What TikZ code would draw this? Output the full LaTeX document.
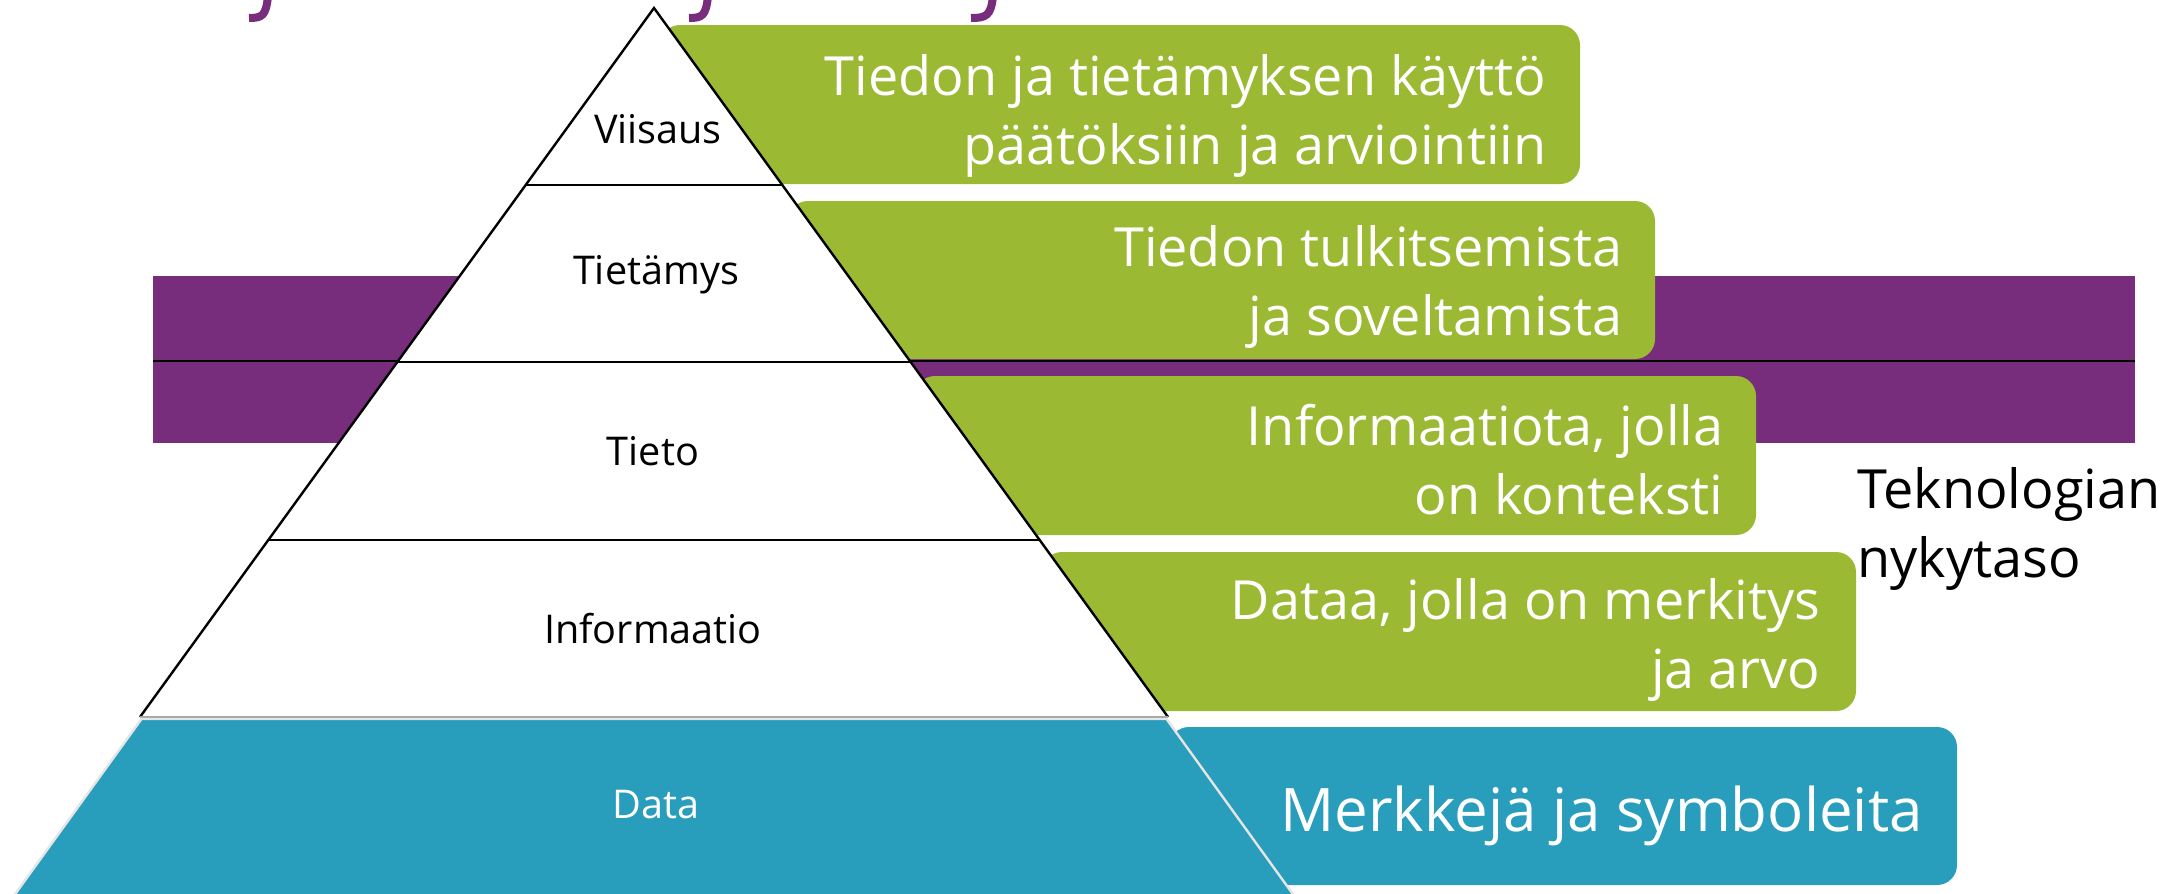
\documentclass[tikz,border=0pt]{standalone}
\usepackage{fontspec}
\setmainfont{Open Sans}

\definecolor{vihrea}{RGB}{155,185,50}
\definecolor{violetti}{RGB}{120,44,124}
\definecolor{turkoosi}{RGB}{40,157,188}

\tikzset{
  laatikko/.style={fill=vihrea, rounded corners=10pt},
  laatikkoteksti/.style={text=white, align=right, anchor=east, inner sep=0pt, font=\fontsize{27}{34.5}\selectfont},
  taso/.style={inner sep=0pt, font=\fontsize{19.8}{23}\selectfont},
}

\begin{document}
\begin{tikzpicture}[x=0.5pt, y=-0.5pt]
    \useasboundingbox (0,0) rectangle (2169,894);

    % Otsikon alaosat
    \draw[violetti, line width=4pt] (268,-4) .. controls (266,16) and (262,18) .. (249,18);
    \draw[violetti, line width=4pt] (708,-4) .. controls (706,16) and (702,18) .. (689,18);
    \draw[violetti, line width=4pt] (993,-4) .. controls (991,16) and (986,18) .. (971,18);

    % Teknologian nykytaso
    \fill[violetti] (153,276) rectangle (2135,443);
    \draw[black, line width=0.8pt] (153,361) -- (2135,361);

    % Laatikot
    \fill[laatikko] (660,25) rectangle (1580,184);
    \fill[laatikko] (788,201) rectangle (1655,359);
    \fill[laatikko] (915,376) rectangle (1756,535);
    \fill[laatikko] (1042,552) rectangle (1856,711);
    \fill[laatikko, fill=turkoosi] (1169,727) rectangle (1957,885);

    % Pyramidi
    \filldraw[fill=white, draw=black, line width=1.2pt] (140,717) -- (654,8) -- (1168,717);
    \draw[black, line width=1.2pt] (525.7,185) -- (782.3,185);
    \draw[black, line width=1.2pt] (397.3,362) -- (910.7,362);
    \draw[black, line width=1.2pt] (268.3,540) -- (1039.7,540);
    \draw[gray!70, line width=1pt] (140,717) -- (1168,717);
    \filldraw[fill=turkoosi, draw=gray!20, line width=1.2pt] (141.5,719) -- (1166.5,719) -- (1300,904) -- (8,904) -- cycle;

    % Tasot
    \node[taso] (viisaus) at (658,129) {Viisaus};
    \node[taso] (tietamys) at (656,275) {Tietämys};
    \node[taso] (tieto) at (653,451) {Tieto};
    \node[taso] (informaatio) at (653,629) {Informaatio};
    \node[taso, text=white] (data) at (656,805) {Data};

    % Selitykset
    \node[laatikkoteksti] (kaytto) at (1547,116) {Tiedon ja tietämyksen käyttö\\päätöksiin ja arviointiin};
    \node[laatikkoteksti] (tulkinta) at (1623,287) {Tiedon tulkitsemista\\ja soveltamista};
    \node[laatikkoteksti] (konteksti) at (1724,460) {Informaatiota, jolla\\on konteksti};
    \node[laatikkoteksti] (merkitys) at (1821,640) {Dataa, jolla on merkitys\\ja arvo};
    \node[laatikkoteksti, font=\fontsize{30}{36}\selectfont] (merkit) at (1923,816) {Merkkejä ja symboleita};
    \node[anchor=west, align=left, inner sep=0pt, font=\fontsize{27}{34.5}\selectfont] (teknologia) at (1857,529) {Teknologian\\nykytaso};
\end{tikzpicture}
\end{document}
